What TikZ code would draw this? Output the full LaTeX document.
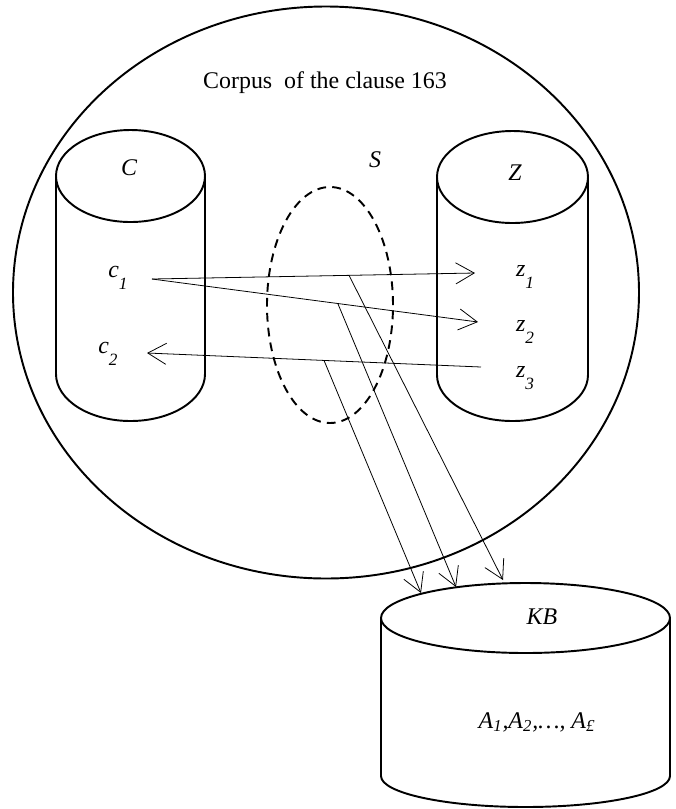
\documentclass[tikz,border=0pt]{standalone}
\usepackage{fontspec}
\setmainfont{Liberation Serif}
\usetikzlibrary{arrows.meta}

\newcommand\lowidx[1]{\raisebox{-6.5pt}{\fontsize{9.8}{10}\selectfont #1}}

\tikzset{
  outline/.style={line width=1.1pt},
  link/.style={line width=.45pt,-{Straight Barb[length=10.5pt,width=12pt]}},
  txt/.style={inner sep=1pt,font=\fontsize{13.6}{16}\selectfont},
  var/.style={inner sep=1pt,font=\fontsize{13.6}{16}\selectfont\itshape}
}

\begin{document}
\begin{tikzpicture}
                \useasboundingbox (0,0) rectangle (13.52,-16.18);
                % corpus
                \draw[outline] (6.52,-5.85) ellipse[x radius=6.26,y radius=5.72];
                \node[txt] (corpus) at (6.5,-1.66) {Corpus\ \ of the clause 163};
                % C and Z
                \draw[outline] (1.12,-3.52)--(1.12,-7.48) arc[start angle=180,end angle=360,x radius=1.49,y radius=.94]--(4.10,-3.52);
                \draw[outline] (2.61,-3.52) ellipse[x radius=1.49,y radius=.92];
                \draw[outline] (8.74,-3.54)--(8.74,-7.50) arc[start angle=180,end angle=360,x radius=1.51,y radius=.92]--(11.76,-3.54);
                \draw[outline] (10.25,-3.54) ellipse[x radius=1.51,y radius=.92];
                \node[var] (C) at (2.58,-3.36) {C};
                \node[var] (Z) at (10.3,-3.46) {Z};
                % S
                \draw[line width=1.1pt,dash pattern=on 5pt off 3.5pt] (6.6,-6.1) ellipse[x radius=1.26,y radius=2.36];
                \node[var] (S) at (7.5,-3.2) {S};
                % KB
                \draw[outline] (7.62,-12.36)--(7.62,-15.52) arc[start angle=180,end angle=360,x radius=2.89,y radius=.62]--(13.40,-12.36);
                \draw[outline] (10.51,-12.36) ellipse[x radius=2.89,y radius=.70];
                \node[var] (KB) at (10.84,-12.34) {KB};
                \node[var] (A) at (10.74,-14.44) {A\textsubscript{1},A\textsubscript{2},\ldots, A\textsubscript{£}};
                % elements
                \node[var] (c1) at (2.36,-5.56) {c\lowidx{1}};
                \node[var] (c2) at (2.16,-7.08) {c\lowidx{2}};
                \node[var] (z1) at (10.5,-5.54) {z\lowidx{1}};
                \node[var] (z2) at (10.5,-6.64) {z\lowidx{2}};
                \node[var] (z3) at (10.5,-7.56) {z\lowidx{3}};
                \coordinate (c1out) at (3.04,-5.58);
                \coordinate (z1in) at (9.5,-5.46);
                \coordinate (z2in) at (9.56,-6.44);
                \coordinate (z3out) at (9.62,-7.34);
                \coordinate (c2in) at (2.94,-7.06);
                \coordinate (kb1) at (8.42,-11.86);
                \coordinate (kb2) at (9.12,-11.74);
                \coordinate (kb3) at (10.06,-11.6);
                \draw[link] (c1out) -- coordinate[pos=.61] (s1) (z1in);
                \draw[link] (c1out) -- coordinate[pos=.57] (s2) (z2in);
                \draw[link] (z3out) -- coordinate[pos=.47] (s3) (c2in);
                \draw[link] (s1) -- (kb3);
                \draw[link] (s2) -- (kb2);
                \draw[link] (s3) -- (kb1);
            \end{tikzpicture}
\end{document}
